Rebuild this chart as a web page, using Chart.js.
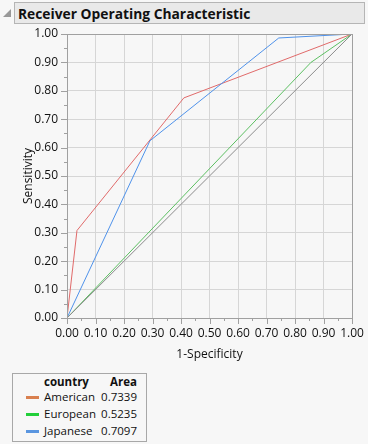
<!DOCTYPE html>
<html>
<head>
<meta charset="utf-8">
<script src="https://cdn.jsdelivr.net/npm/chart.js@4"></script>
<style>
  body { margin: 0; background: #f7f7f7; width: 368px; height: 444px; overflow: hidden; font-family: "Open Sans", sans-serif; }
  .tri { position: absolute; left: 3px; top: 9px; width: 0; height: 0; border-left: 8px solid transparent; border-bottom: 8px solid #999; }
  .title { position: absolute; left: 14px; top: 2px; width: 351px; height: 22px; background: #e9e9e9; border: 1px solid #b5b5b5; font: bold 13.8px "Open Sans", sans-serif; color: #111; line-height: 22px; padding-left: 3px; box-sizing: border-box; }
  #wrap { position: absolute; left: 0; top: 0; width: 368px; height: 362px; }
  .legend { position: absolute; left: 12px; top: 373px; width: 135px; height: 69px; border: 1px solid #a8a8a8; box-sizing: border-box; font: 11.5px "Open Sans", sans-serif; color: #111; }
  .legend span { position: absolute; line-height: 16px; white-space: nowrap; }
  .legend .b { font-weight: bold; }
  .legend .sw { width: 13px; height: 3px; }
</style>
</head>
<body>
<div class="tri"></div>
<div class="title">Receiver Operating Characteristic</div>
<div id="wrap"><canvas id="roc"></canvas></div>
<div class="legend" id="legendBox"></div>
<script>
// ROC curve points (1-Specificity, Sensitivity)
const countries = ["American", "European", "Japanese"];
const areas = ["0.7339", "0.5235", "0.7097"];
const americanX = [0, 0.035, 0.41, 1];
const americanY = [0, 0.308, 0.775, 1];
const europeanX = [0, 0.856, 1];
const europeanY = [0, 0.90, 1];
const japaneseX = [0, 0.291, 0.743, 1];
const japaneseY = [0, 0.624, 0.986, 1];
const diagX = [0, 1];
const diagY = [0, 1];

const lineColors = ["#e06a6a", "#5cbf62", "#4f92ea"];
const legendColors = ["#d9804f", "#22cf3a", "#5a96e0"];

function pts(xs, ys) { return xs.map((x, i) => ({ x: x, y: ys[i] })); }

const tickFont = { family: "Open Sans", size: 12 };

// draws frame + major/minor ticks
const frameTicks = {
    id: "frameTicks",
    afterDraw(chart) {
        const ctx = chart.ctx;
        const a = chart.chartArea;
        const xs = chart.scales.x, ys = chart.scales.y;
        ctx.save();
        ctx.strokeStyle = "#a0a0a0";
        ctx.lineWidth = 1;
        ctx.beginPath();
        for (let i = 0; i <= 20; i++) {
            const v = i / 20;
            const len = i % 2 === 0 ? 6 : 3;
            const px = Math.round(xs.getPixelForValue(v)) + 0.5;
            ctx.moveTo(px, a.bottom);
            ctx.lineTo(px, a.bottom + len);
            const py = Math.round(ys.getPixelForValue(v)) + 0.5;
            ctx.moveTo(a.left - len, py);
            ctx.lineTo(a.left, py);
        }
        ctx.stroke();
        ctx.strokeRect(Math.round(a.left) + 0.5, Math.round(a.top) + 0.5, Math.round(a.right - a.left), Math.round(a.bottom - a.top));
        ctx.restore();
    }
};

const ctx = document.getElementById("roc").getContext("2d");
new Chart(ctx, {
    type: "scatter",
    data: {
        datasets: [
            { label: "diag", data: pts(diagX, diagY), borderColor: "#8c8c8c" },
            { label: countries[1], data: pts(europeanX, europeanY), borderColor: lineColors[1] },
            { label: countries[2], data: pts(japaneseX, japaneseY), borderColor: lineColors[2] },
            { label: countries[0], data: pts(americanX, americanY), borderColor: lineColors[0] }
        ].map(d => Object.assign(d, { showLine: true, borderWidth: 1, pointRadius: 0, tension: 0 }))
    },
    options: {
        responsive: true,
        maintainAspectRatio: false,
        animation: false,
        layout: { padding: { left: 0, right: 16, top: 34, bottom: 0 } },
        plugins: { legend: { display: false }, tooltip: { enabled: false } },
        scales: {
            x: {
                min: 0, max: 1,
                ticks: { stepSize: 0.05, autoSkip: false, maxRotation: 0, padding: 8, color: "#111", font: tickFont,
                    callback: (v, i) => i % 2 === 0 ? v.toFixed(2) : "" },
                grid: { drawTicks: false, color: c => c.index % 2 === 0 ? "#d6d6d6" : "rgba(0,0,0,0)" },
                border: { color: "#a0a0a0" },
                title: { display: true, text: "1-Specificity", color: "#111", font: tickFont, padding: { top: 1, bottom: 0 } },
                afterFit: s => { s.height = 44; s.paddingLeft = 0; s.paddingRight = 0; }
            },
            y: {
                min: 0, max: 1,
                ticks: { stepSize: 0.05, autoSkip: false, padding: 9, color: "#111", font: tickFont,
                    callback: (v, i) => i % 2 === 0 ? v.toFixed(2) : "" },
                grid: { drawTicks: false, color: c => c.index % 2 === 0 ? "#d6d6d6" : "rgba(0,0,0,0)" },
                border: { color: "#a0a0a0" },
                title: { display: true, text: "Sensitivity", color: "#111", font: tickFont, padding: { top: 21, bottom: 0 } },
                afterFit: s => { s.width = 67; s.paddingTop = 0; s.paddingBottom = 0; }
            }
        }
    },
    plugins: [frameTicks]
});

// legend box, positions relative to box (box at 12,373)
const box = document.getElementById("legendBox");
let html = '<span class="b" style="left:31px;top:0px">country</span>' +
           '<span class="b" style="right:9px;top:0px">Area</span>';
countries.forEach((c, i) => {
    const top = 15 + i * 17;
    html += `<span class="sw" style="left:13px;top:${top + 7}px;background:${legendColors[i]}"></span>`;
    html += `<span style="left:31px;top:${top}px">${c}</span>`;
    html += `<span style="right:9px;top:${top}px">${areas[i]}</span>`;
});
box.innerHTML = html;
</script>
</body>
</html>
